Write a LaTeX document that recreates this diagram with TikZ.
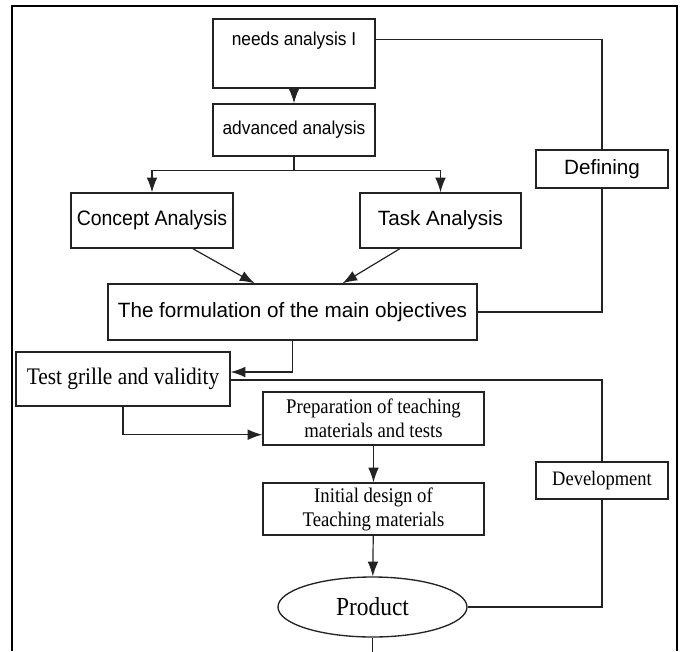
\documentclass[tikz,border=0pt]{standalone}
\usepackage{fontspec}
\setmainfont{Liberation Serif}
\newfontfamily\arialfont{Liberation Sans}
\newfontfamily\narrowsans[FakeStretch=0.93]{Liberation Sans}
\newfontfamily\narrowserif[FakeStretch=0.9]{Liberation Serif}
\usetikzlibrary{
	arrows.meta,
	calc,
	positioning,
	shapes.geometric
}
\definecolor{LineGray}{RGB}{35,35,35}

\tikzset{
	boxnode/.style={draw=LineGray, line width=1pt, rectangle, align=center, inner sep=2pt},
	sansbox/.style={boxnode, font=\arialfont\fontsize{#1}{#1}\selectfont},
	narrowbox/.style={boxnode, font=\narrowsans\fontsize{#1}{#1}\selectfont},
	serifbox/.style={boxnode, font=\narrowserif\fontsize{#1}{18}\selectfont},
	link/.style={draw=LineGray, line width=0.9pt},
	arrowlink/.style={link, -{Latex[length=11pt,width=8pt]}}
}

\begin{document}
\begin{tikzpicture}[x=0.75pt, y=-0.75pt]
	\useasboundingbox (0,0) rectangle (689,651);
	% 外框
	\draw[line width=1.3pt] (12,651) -- (12,6) -- (677,6) -- (677,651);
	
	% Defining 部分
	\node[narrowbox=14, minimum width=162*0.75pt, minimum height=69*0.75pt, text height=10pt, text depth=22pt] (needs) at (294,53.5) {needs analysis I};
	\node[narrowbox=14, minimum width=162*0.75pt, minimum height=52*0.75pt] (advanced) at (294,130) {advanced analysis};
	\node[narrowbox=15.7, minimum width=162*0.75pt, minimum height=55*0.75pt] (concept) at (152,220.5) {Concept Analysis};
	\node[sansbox=15.5, minimum width=161*0.75pt, minimum height=55*0.75pt] (task) at (440.5,220.5) {Task Analysis};
	\node[sansbox=15.5, minimum width=369*0.75pt, minimum height=56*0.75pt] (objectives) at (292.5,312) {The formulation of the main objectives};
	\node[sansbox=15.5, minimum width=132*0.75pt, minimum height=38*0.75pt] (defining) at (602,169) {Defining};
	
	% Development 部分
	\node[serifbox=17.8, minimum width=214*0.75pt, minimum height=54*0.75pt] (grille) at (123,379) {Test grille and validity};
	\node[serifbox=15.6, minimum width=221*0.75pt, minimum height=53*0.75pt] (preparation) at (373.5,418.5) {Preparation of teaching\\materials and tests};
	\node[serifbox=15.6, minimum width=221*0.75pt, minimum height=52*0.75pt] (design) at (373.5,509) {Initial design of\\Teaching materials};
	\node[serifbox=15.4, minimum width=132*0.75pt, minimum height=37*0.75pt] (development) at (602,480.5) {Development};
	\node[boxnode, ellipse, font=\narrowserif\fontsize{19.5}{19.5}\selectfont, minimum width=189*0.75pt, minimum height=60*0.75pt] (product) at (372.5,607) {Product};
	
	% 连线
	\draw[arrowlink] (needs) -- (advanced);
	\coordinate (split) at ($(advanced.south)+(0,14)$);
	\draw[link] (advanced.south) -- (split);
	\draw[arrowlink] (split) -| (concept.north);
	\draw[arrowlink] (split) -| (task.north);
	\draw[arrowlink] ($(concept.south east)!0.5!(concept.south)$) -- ($(objectives.north)+(-38,0)$);
	\draw[arrowlink] ($(task.south west)!0.5!(task.south)$) -- ($(objectives.north)+(50,0)$);
	\draw[link] ($(needs.north east)+(0,21)$) -| (defining.north);
	\draw[link] (defining.south) |- (objectives.east);
	
	\draw[arrowlink] (objectives.south) |- ($(grille.east)+(0,-7)$);
	\draw[link] ($(grille.east)+(0,1)$) -| (development.north);
	\draw[arrowlink] (grille.south) |- ($(preparation.south west)+(0,-11)$);
	\draw[arrowlink] (preparation) -- (design);
	\draw[arrowlink] (design) -- (product);
	\draw[link] (product.east) -| (development.south);
	\draw[link] (product.south) -- ++(0,20);
\end{tikzpicture}
\end{document}
